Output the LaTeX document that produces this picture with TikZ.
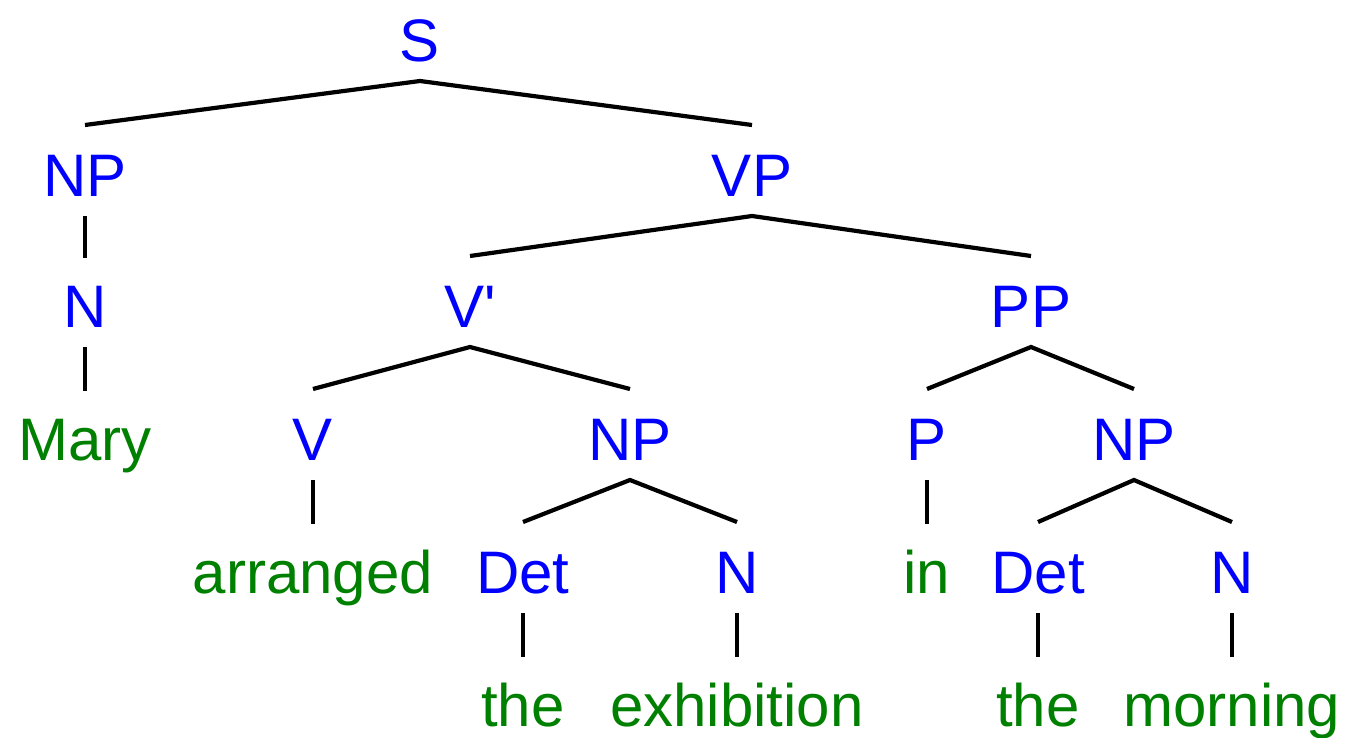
\documentclass[tikz,border=0pt]{standalone}
\usepackage{fontspec}
\setmainfont{Liberation Sans}
\definecolor{catblue}{RGB}{0,0,255}
\definecolor{wordgreen}{RGB}{0,128,0}
\begin{document}
\begin{tikzpicture}[x=1pt,y=-1pt,
  lab/.style={inner sep=0pt,outer sep=0pt,anchor=base,text height=43pt,text depth=0pt,font=\fontsize{60}{72}\selectfont},
  cat/.style={lab,text=catblue},
  word/.style={lab,text=wordgreen},
  branch/.style={line width=4.2pt,black,line cap=butt},
  stem/.style={line width=3.4pt,black,line cap=butt}]
\useasboundingbox (0,0) rectangle (1345,737);
% row 1
\node[cat] (S) at (420,61) {S};
% row 2
\node[cat] (NPa) at (85,196) {NP};
\node[cat] (VP) at (752,196) {VP};
% row 3
\node[cat] (Na) at (85,327) {N};
\node[cat] (Vbar) at (470,327) {V\textquotesingle};
\node[cat] (PP) at (1031,327) {PP};
% row 4
\node[word] (Mary) at (85,460) {Mary};
\node[cat] (V) at (313,460) {V};
\node[cat] (NPb) at (630,460) {NP};
\node[cat] (P) at (927,460) {P};
\node[cat] (NPc) at (1134,460) {NP};
% row 5
\node[word] (arranged) at (313,593) {arranged};
\node[cat] (Deta) at (523,593) {Det};
\node[cat] (Nb) at (737,593) {N};
\node[word] (in) at (927,593) {in};
\node[cat] (Detb) at (1038,593) {Det};
\node[cat] (Nc) at (1232,593) {N};
% row 6
\node[word] (thea) at (523,726) {the};
\node[word] (exhibition) at (737,726) {exhibition};
\node[word] (theb) at (1038,726) {the};
\node[word] (morning) at (1232,726) {morning};
% branches
\draw[branch] ([yshift=28pt]NPa.north) -- ([yshift=-20pt]S.south) -- ([yshift=28pt]VP.north);
\draw[branch] ([yshift=28pt]Vbar.north) -- ([yshift=-20pt]VP.south) -- ([yshift=28pt]PP.north);
\draw[branch] ([yshift=28pt]V.north) -- ([yshift=-20pt]Vbar.south) -- ([yshift=28pt]NPb.north);
\draw[branch] ([yshift=28pt]P.north) -- ([yshift=-20pt]PP.south) -- ([yshift=28pt]NPc.north);
\draw[branch] ([yshift=28pt]Deta.north) -- ([yshift=-20pt]NPb.south) -- ([yshift=28pt]Nb.north);
\draw[branch] ([yshift=28pt]Detb.north) -- ([yshift=-20pt]NPc.south) -- ([yshift=28pt]Nc.north);
\draw[stem] ([yshift=-20pt]NPa.south) -- ([yshift=26pt]Na.north);
\draw[stem] ([yshift=-20pt]Na.south) -- ([yshift=26pt]Mary.north);
\draw[stem] ([yshift=-20pt]V.south) -- ([yshift=26pt]arranged.north);
\draw[stem] ([yshift=-20pt]P.south) -- ([yshift=26pt]in.north);
\draw[stem] ([yshift=-20pt]Deta.south) -- ([yshift=26pt]thea.north);
\draw[stem] ([yshift=-20pt]Nb.south) -- ([yshift=26pt]exhibition.north);
\draw[stem] ([yshift=-20pt]Detb.south) -- ([yshift=26pt]theb.north);
\draw[stem] ([yshift=-20pt]Nc.south) -- ([yshift=26pt]morning.north);
\end{tikzpicture}
\end{document}
